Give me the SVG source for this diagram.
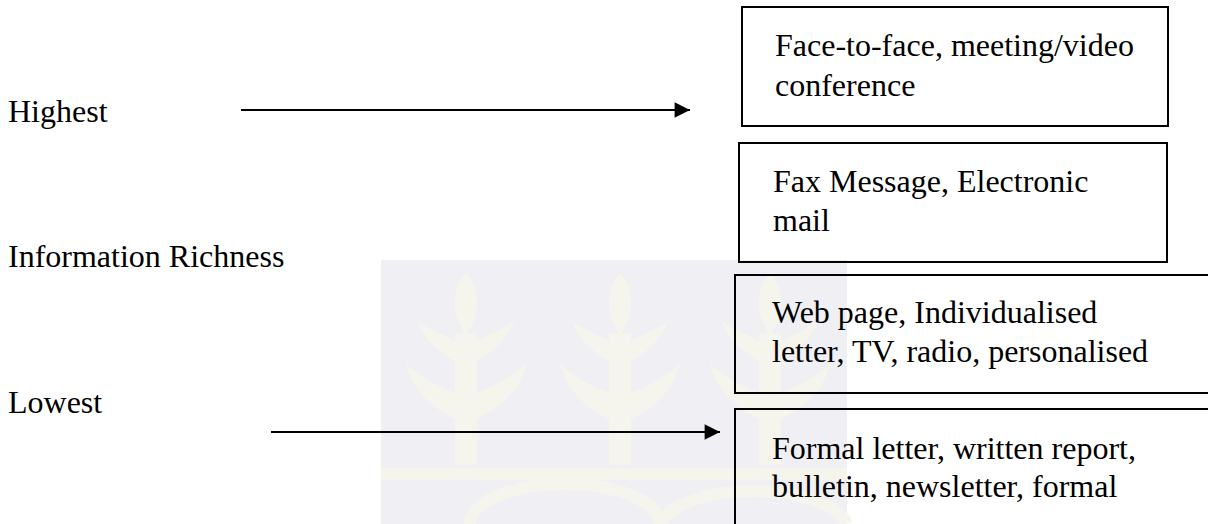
<svg xmlns="http://www.w3.org/2000/svg" width="1208" height="524" viewBox="0 0 1208 524">
  <style>
    .lbl { font-family: "Liberation Serif", "Times New Roman", serif; font-size: 32px; fill: #000; }
    .box { fill: none; stroke: #000; stroke-width: 2; }
    .conn { stroke: #000; stroke-width: 2.2; fill: none; }
    .wm { fill: #f6f5ed; }
  </style>
  <defs>
    <marker id="arrow" viewBox="0 0 10 10" refX="10" refY="5" markerWidth="7.5" markerHeight="7" markerUnits="strokeWidth" orient="auto">
      <path d="M0,0 L10,5 L0,10 Z" fill="#000"/>
    </marker>
    <g id="plant">
      <path class="wm" d="M0,0 C14,15 16,40 0,62 C-16,40 -14,15 0,0 Z"/>
      <path class="wm" d="M-4,72 C-20,62 -38,56 -48,48 C-42,66 -25,82 -4,92 Z"/>
      <path class="wm" d="M4,72 C20,62 38,56 48,48 C42,66 25,82 4,92 Z"/>
      <path class="wm" d="M-6,122 C-30,112 -50,102 -60,90 C-55,116 -35,136 -6,148 Z"/>
      <path class="wm" d="M6,122 C30,112 50,102 60,90 C55,116 35,136 6,148 Z"/>
      <rect class="wm" x="-11" y="60" width="22" height="132"/>
    </g>
  </defs>

  <rect width="1208" height="524" fill="#fff"/>

  <g id="watermark">
    <rect x="381" y="260" width="466" height="264" fill="#efeff4"/>
    <use href="#plant" x="466" y="273"/>
    <use href="#plant" x="620" y="273"/>
    <use href="#plant" x="770" y="273"/>
    <rect class="wm" x="381" y="468" width="466" height="12"/>
    <path d="M470,524 A95,40 0 0 1 660,524" fill="none" stroke="#f6f5ed" stroke-width="12"/>
    <path d="M660,524 A95,40 0 0 1 847,524" fill="none" stroke="#f6f5ed" stroke-width="12"/>
  </g>

  <g id="label-highest"><text class="lbl" x="8" y="122">Highest</text></g>
  <g id="label-richness"><text class="lbl" x="8" y="267">Information Richness</text></g>
  <g id="label-lowest"><text class="lbl" x="8" y="413">Lowest</text></g>

  <g id="node-face">
    <rect class="box" x="742" y="7" width="426" height="119"/>
    <text class="lbl" x="775" y="56">Face-to-face, meeting/video</text>
    <text class="lbl" x="775" y="96">conference</text>
  </g>
  <g id="node-fax">
    <rect class="box" x="739" y="143" width="428" height="119"/>
    <text class="lbl" x="773" y="192">Fax Message, Electronic</text>
    <text class="lbl" x="773" y="231">mail</text>
  </g>
  <g id="node-web">
    <rect class="box" x="735" y="275" width="490" height="118"/>
    <text class="lbl" x="772" y="323">Web page, Individualised</text>
    <text class="lbl" x="772" y="362">letter, TV, radio, personalised</text>
  </g>
  <g id="node-formal">
    <rect class="box" x="735" y="409" width="490" height="130"/>
    <text class="lbl" x="772" y="459">Formal letter, written report,</text>
    <text class="lbl" x="772" y="497">bulletin, newsletter, formal</text>
  </g>

  <g id="connectors">
    <line class="conn" x1="241" y1="110" x2="690" y2="110" marker-end="url(#arrow)"/>
    <line class="conn" x1="271" y1="432" x2="720" y2="432" marker-end="url(#arrow)"/>
  </g>
</svg>
